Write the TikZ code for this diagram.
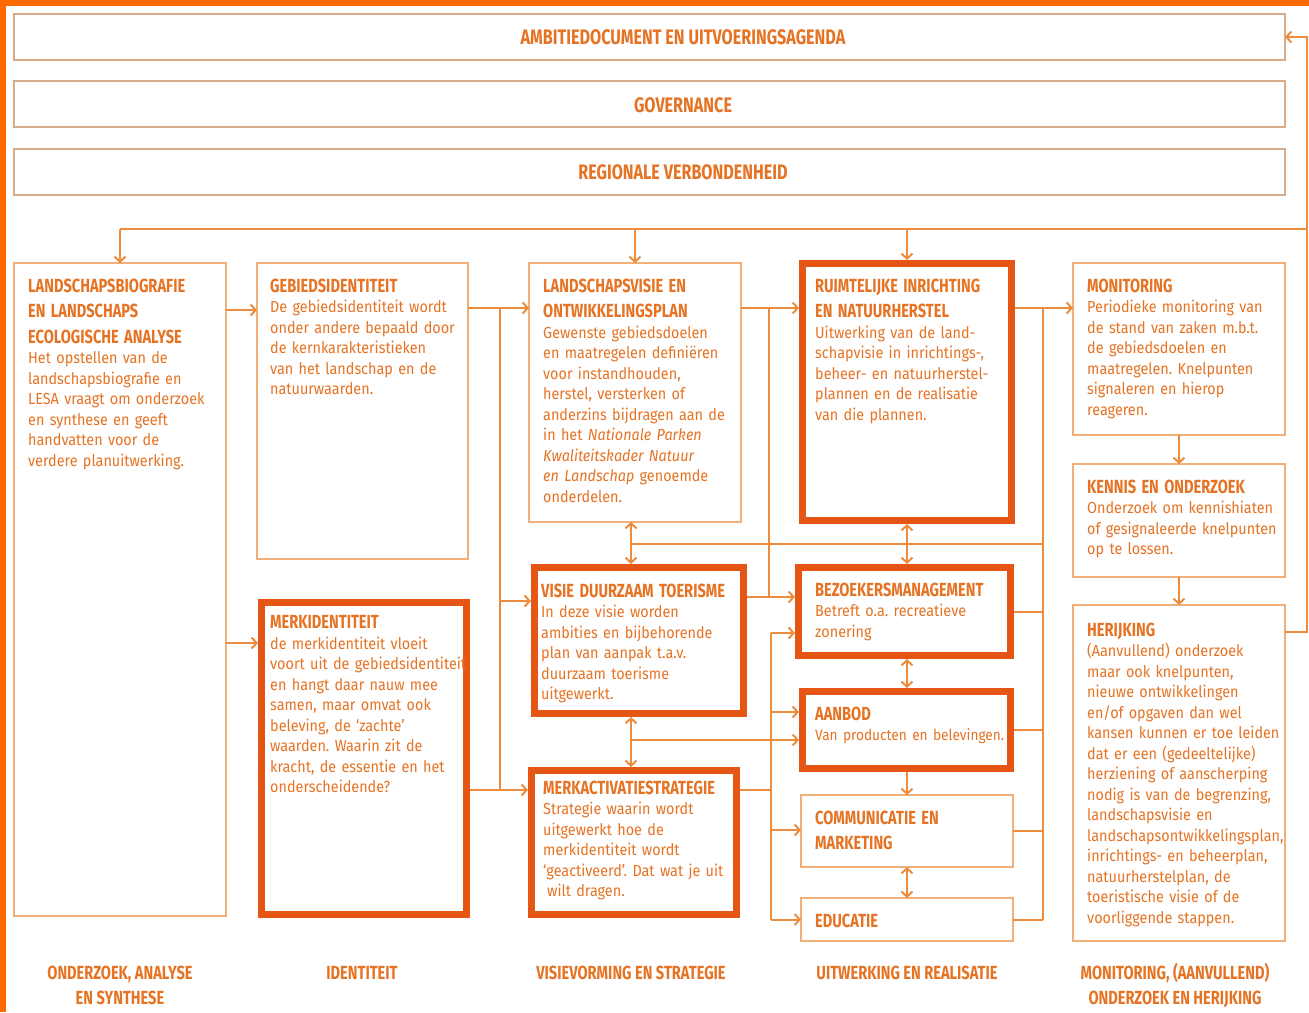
\documentclass[tikz,border=0pt]{standalone}
\usepackage{fontspec}
\setmainfont{Fira Sans}[FakeStretch=0.9]
\newfontfamily\kopfamilie{Fira Sans}[FakeStretch=0.77]
\usetikzlibrary{arrows.meta}
\setlength{\parindent}{0pt}
\setlength{\parskip}{0pt}
\frenchspacing
\definecolor{kader}{RGB}{255,106,0}
\definecolor{oranje}{RGB}{230,115,35}
\definecolor{lijnkleur}{RGB}{236,140,60}
\definecolor{randkleur}{RGB}{241,176,122}
\definecolor{bandrand}{RGB}{216,172,138}
\definecolor{accent}{RGB}{229,86,20}
\newcommand{\kop}[1]{{\kopfamilie\bfseries\fontsize{19}{25.5}\selectfont #1\par}}
\tikzset{
  blok/.style={draw=randkleur, line width=1.5pt, fill=white, anchor=north west, inner sep=0pt, outer sep=0pt},
  markeer/.style={blok, draw=accent, line width=7pt, outer sep=3.5pt},
  band/.style={blok, draw=bandrand, minimum width=1271pt, minimum height=46pt},
  tekst/.style={anchor=north west, inner sep=0pt, text width=240pt, align=left, text=oranje, font=\fontsize{16}{20.5}\selectfont},
  kopje/.style={inner sep=0pt, text=oranje, align=center, font=\kopfamilie\bfseries\fontsize{19}{25.5}\selectfont},
  bandtekst/.style={kopje, font=\kopfamilie\bfseries\fontsize{21}{25.5}\selectfont},
  lijn/.style={draw=lijnkleur, line width=2pt},
  pijl/.style={lijn, -{Straight Barb[length=5pt, width=11pt]}},
  dpijl/.style={lijn, {Straight Barb[length=5pt, width=11pt]}-{Straight Barb[length=5pt, width=11pt]}}
}
\begin{document}
\begin{tikzpicture}[x=1pt, y=-1pt]
\useasboundingbox (0,0) rectangle (1309,1012);

\node[band] (ambitie) at (14,14) {};
\node[band] (governance) at (14,81) {};
\node[band] (regio) at (14,149) {};
\node[bandtekst] (ambitieTxt) at (683,37) {AMBITIEDOCUMENT EN UITVOERINGSAGENDA};
\node[bandtekst] (governanceTxt) at (683,105) {GOVERNANCE};
\node[bandtekst] (regioTxt) at (683,172) {REGIONALE VERBONDENHEID};

\node[blok, minimum width=212pt, minimum height=653pt] (bio) at (14,263) {};
\node[blok, minimum width=211pt, minimum height=296pt] (gebied) at (257,263) {};
\node[markeer, minimum width=205pt, minimum height=312pt] (merkid) at (258,599) {};
\node[blok, minimum width=212pt, minimum height=259pt] (visie) at (529,263) {};
\node[markeer, minimum width=209pt, minimum height=146pt] (toer) at (531,564) {};
\node[markeer, minimum width=205pt, minimum height=144pt] (merkact) at (528,767) {};
\node[markeer, minimum width=209pt, minimum height=257pt] (ruimte) at (799,260) {};
\node[markeer, minimum width=212pt, minimum height=88pt] (bezoek) at (795,564) {};
\node[markeer, minimum width=208pt, minimum height=77pt] (aanbod) at (799,688) {};
\node[blok, minimum width=212pt, minimum height=72pt] (comm) at (801,795) {};
\node[blok, minimum width=212pt, minimum height=43pt] (educ) at (801,898) {};
\node[blok, minimum width=212pt, minimum height=172pt] (monit) at (1073,263) {};
\node[blok, minimum width=212pt, minimum height=113pt] (kennis) at (1073,464) {};
\node[blok, minimum width=212pt, minimum height=336pt] (herijk) at (1073,605) {};

\node[tekst] (bioTxt) at ([shift={(14,15.5)}]bio.north west) {\kop{LANDSCHAPSBIOGRAFIE\\EN LANDSCHAPS\\ECOLOGISCHE ANALYSE}Het opstellen van de\\landschapsbiografie en\\LESA vraagt om onderzoek\\en synthese en geeft\\handvatten voor de\\verdere planuitwerking.};
\node[tekst] (gebiedTxt) at ([shift={(13,15.5)}]gebied.north west) {\kop{GEBIEDSIDENTITEIT}De gebiedsidentiteit wordt\\onder andere bepaald door\\de kernkarakteristieken\\van het landschap en de\\natuurwaarden.};
\node[tekst] (merkidTxt) at ([shift={(12,16.5)}]merkid.north west) {\kop{MERKIDENTITEIT}de merkidentiteit vloeit\\voort uit de gebiedsidentiteit\\en hangt daar nauw mee\\samen, maar omvat ook\\beleving, de ‘zachte’\\waarden. Waarin zit de\\kracht, de essentie en het\\onderscheidende?};
\node[tekst] (visieTxt) at ([shift={(14,15.5)}]visie.north west) {\kop{LANDSCHAPSVISIE EN\\ONTWIKKELINGSPLAN}Gewenste gebiedsdoelen\\en maatregelen definiëren\\voor instandhouden,\\herstel, versterken of\\anderzins bijdragen aan de\\in het \textit{Nationale Parken}\\\textit{Kwaliteitskader Natuur}\\\textit{en Landschap} genoemde\\onderdelen.};
\node[tekst] (toerTxt) at ([shift={(10,19.5)}]toer.north west) {\kop{VISIE DUURZAAM TOERISME}In deze visie worden\\ambities en bijbehorende\\plan van aanpak t.a.v.\\duurzaam toerisme\\uitgewerkt.};
\node[tekst] (merkactTxt) at ([shift={(15,13.5)}]merkact.north west) {\kop{MERKACTIVATIESTRATEGIE}Strategie waarin wordt\\uitgewerkt hoe de\\merkidentiteit wordt\\‘geactiveerd’. Dat wat je uit\\\hspace*{4pt}wilt dragen.};
\node[tekst] (ruimteTxt) at ([shift={(16,18.5)}]ruimte.north west) {\kop{RUIMTELIJKE INRICHTING\\EN NATUURHERSTEL}Uitwerking van de land-\\schapvisie in inrichtings-,\\beheer- en natuurherstel-\\plannen en de realisatie\\van die plannen.};
\node[tekst] (bezoekTxt) at ([shift={(20,18.5)}]bezoek.north west) {\kop{BEZOEKERSMANAGEMENT}Betreft o.a. recreatieve\\zonering};
\node[tekst] (aanbodTxt) at ([shift={(16,18.5)}]aanbod.north west) {\kop{AANBOD}\fontsize{15.2}{20.5}\selectfont Van producten en belevingen.};
\node[tekst] (commTxt) at ([shift={(14,15.5)}]comm.north west) {\kop{COMMUNICATIE EN\\MARKETING}};
\node[tekst] (educTxt) at ([shift={(14,15.5)}]educ.north west) {\kop{EDUCATIE}};
\node[tekst] (monitTxt) at ([shift={(14,15.5)}]monit.north west) {\kop{MONITORING}Periodieke monitoring van\\de stand van zaken m.b.t.\\de gebiedsdoelen en\\maatregelen. Knelpunten\\signaleren en hierop\\reageren.};
\node[tekst] (kennisTxt) at ([shift={(14,15.5)}]kennis.north west) {\kop{KENNIS EN ONDERZOEK}Onderzoek om kennishiaten\\of gesignaleerde knelpunten\\op te lossen.};
\node[tekst] (herijkTxt) at ([shift={(14,17.5)}]herijk.north west) {\kop{HERIJKING}(Aanvullend) onderzoek\\maar ook knelpunten,\\nieuwe ontwikkelingen\\en/of opgaven dan wel\\kansen kunnen er toe leiden\\dat er een (gedeeltelijke)\\herziening of aanscherping\\nodig is van de begrenzing,\\landschapsvisie en\\landschapsontwikkelingsplan,\\inrichtings- en beheerplan,\\natuurherstelplan, de\\toeristische visie of de\\voorliggende stappen.};

\node[kopje] (fase1) at (120,985.5) {ONDERZOEK, ANALYSE\\EN SYNTHESE};
\node[kopje] (fase2) at (362,973) {IDENTITEIT};
\node[kopje] (fase3) at (631,973) {VISIEVORMING EN STRATEGIE};
\node[kopje] (fase4) at (907,973) {UITWERKING EN REALISATIE};
\node[kopje] (fase5) at (1175,985.5) {MONITORING, (AANVULLEND)\\ONDERZOEK EN HERIJKING};

\coordinate (terug) at (1307,229);
\draw[pijl] ([yshift=-27pt]herijk.north east) -| (terug) |- (ambitie.east);
\draw[lijn] (terug) -- (terug -| bio.north);
\foreach \n in {bio,visie,ruimte} \draw[pijl] (terug -| \n.north) -- (\n.north);

\coordinate (g1) at ([yshift=-47pt]gebied.north west);
\coordinate (m1) at ([yshift=-44pt]merkid.north west);
\draw[pijl] (bio.east |- g1) -- (g1);
\draw[pijl] (bio.east |- m1) -- (m1);

\coordinate (railB) at (500,0);
\coordinate (v1) at ([yshift=-45pt]visie.north west);
\coordinate (t1) at ([yshift=-37pt]toer.north west);
\coordinate (a1) at ([yshift=-23pt]merkact.north west);
\draw[pijl] (gebied.east |- v1) -- (v1);
\draw[pijl] (merkid.east |- a1) -- (a1);
\draw[lijn] (railB |- v1) -- (railB |- a1);
\draw[pijl] (railB |- t1) -- (t1);

\coordinate (asV) at (631,0);
\coordinate (kruis) at (631,544);
\draw[dpijl] (asV |- visie.south) -- (asV |- toer.north);
\draw[dpijl] (asV |- toer.south) -- (asV |- merkact.north);

\coordinate (railC) at (769,0);
\coordinate (r1) at ([yshift=-48pt]ruimte.north west);
\coordinate (b1) at ([yshift=-33pt]bezoek.north west);
\draw[pijl] (visie.east |- r1) -- (r1);
\draw[lijn] (railC |- r1) -- (railC |- b1);
\draw[pijl] (toer.east |- b1) -- (b1);

\coordinate (railD) at (771,0);
\coordinate (b2) at ([yshift=-69pt]bezoek.north west);
\coordinate (n1) at ([yshift=-24pt]aanbod.north west);
\coordinate (n2) at ([yshift=-52pt]aanbod.north west);
\coordinate (c1) at ([yshift=-35pt]comm.north west);
\draw[lijn] (railD |- b2) -- (railD |- educ.west);
\draw[lijn] (merkact.east |- a1) -- (railD |- a1);
\foreach \p in {b2,n1,c1,educ.west} \draw[pijl] (railD |- \p) -- (\p);
\draw[pijl] (asV |- n2) -- (n2);

\draw[dpijl] (ruimte.south) -- (ruimte.south |- bezoek.north);
\draw[dpijl] (ruimte.south |- bezoek.south) -- (ruimte.south |- aanbod.north);
\draw[pijl] (ruimte.south |- aanbod.south) -- (comm.north);
\draw[dpijl] (comm.south) -- (educ.north);

\coordinate (railE) at (1043,0);
\coordinate (mo1) at ([yshift=-45pt]monit.north west);
\draw[pijl] (ruimte.east |- mo1) -- (mo1);
\draw[lijn] (railE |- mo1) -- (railE |- educ.east);
\draw[lijn] (kruis) -- (kruis -| railE);
\foreach \n in {bezoek,aanbod,comm,educ} \draw[lijn] (\n.east) -- (railE |- \n.east);
\draw[pijl] (monit.south) -- (kennis.north);
\draw[pijl] (kennis.south) -- (herijk.north);

\fill[kader] (0,0) rectangle (1309,6);
\fill[kader] (0,0) rectangle (6,1012);
\end{tikzpicture}
\end{document}
